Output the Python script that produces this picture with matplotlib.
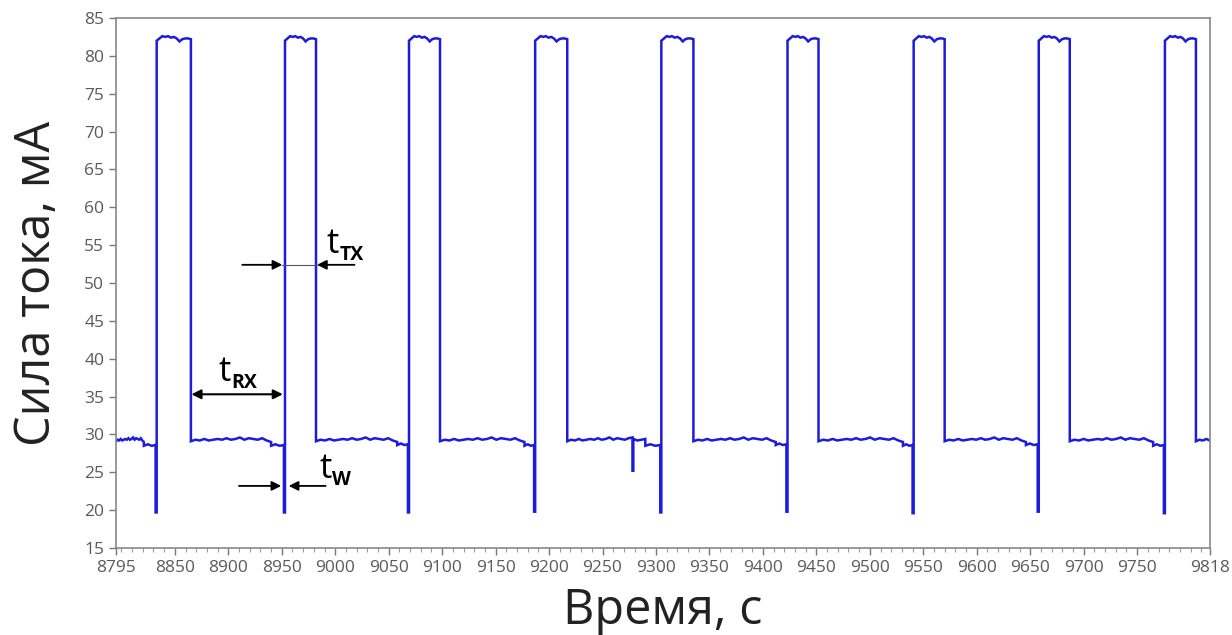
import numpy as np
import matplotlib
matplotlib.use("Agg")
import matplotlib.pyplot as plt

plt.rcParams['font.family'] = ['Open Sans', 'DejaVu Sans']

# ---- data ----
t_start, t_end = 8795, 9818
rise_times = [8833, 8953, 9069, 9187, 9305, 9423, 9541, 9658, 9776]
fall_times = [8865, 8982, 9098, 9217, 9335, 9452, 9570, 9687, 9805]
spike_min = [19.7, 19.7, 19.7, 19.8, 19.7, 19.8, 19.6, 19.8, 19.6]
pre_step_lead = [12, 13, 11, 10, 14, 11, 10, 12, 11]   # seconds the lower step precedes the spike
pre_level = [28.5, 28.5, 28.6, 28.5, 28.5, 28.6, 28.5, 28.6, 28.5]
top_profile = [82.0, 82.3, 82.6, 82.5, 82.6, 82.4, 82.5, 82.3, 81.9, 82.2, 82.3, 82.3, 82.2]
base_profile = [29.1, 29.3, 29.2, 29.4, 29.2, 29.3, 29.4, 29.3, 29.5, 29.3, 29.4,
                29.6, 29.3, 29.5, 29.4, 29.3, 29.5, 29.2, 29.0]
glitch_time, glitch_min, glitch_step = 9278, 25.2, 9290

xticks = [8795, 8850, 8900, 8950, 9000, 9050, 9100, 9150, 9200, 9250, 9300,
          9350, 9400, 9450, 9500, 9550, 9600, 9650, 9700, 9750, 9818]
yticks = [15, 20, 25, 30, 35, 40, 45, 50, 55, 60, 65, 70, 75, 80, 85]

# ---- build piecewise waveform ----
t, y = [], []

def add_profile(a, b, prof):
    pos = np.linspace(a, b, len(prof))
    t.extend(pos)
    y.extend(prof)

prev = t_start
for i, (r, f) in enumerate(zip(rise_times, fall_times)):
    step = r - pre_step_lead[i]
    if i == 4:
        add_profile(prev, glitch_time, base_profile[:-2] + [29.6])
        t.extend([glitch_time, glitch_time + 0.8, glitch_time + 0.8])
        y.extend([glitch_min, glitch_min, 29.4])
        add_profile(glitch_time + 1, glitch_step, base_profile[3:7])
        step = glitch_step
    else:
        add_profile(prev, step, base_profile)
    add_profile(step, r - 1, [pre_level[i], pre_level[i] + 0.2, pre_level[i], pre_level[i] + 0.1])
    t.extend([r - 1, r, r])
    y.extend([spike_min[i], spike_min[i], top_profile[0]])
    add_profile(r, f, top_profile)
    prev = f
add_profile(prev, t_end, base_profile[:5])

# ---- figure ----
fig = plt.figure(figsize=(12.32, 6.35), dpi=100)
ax = fig.add_axes([0.0942, 0.137, 0.8878, 0.8347])
ax.plot(t, y, color='#1c1cdc', lw=1.8, solid_joinstyle='miter')

ax.set_xlim(t_start, t_end)
ax.set_ylim(15, 85)
ax.set_xticks(xticks)
ax.set_yticks(yticks)
ax.set_xticks(np.arange(8800, 9818, 10), minor=True)
ax.tick_params(axis='both', which='major', labelsize=12.5, labelcolor='#5a5a5a',
               color='#777777', direction='out', length=5, width=1)
ax.tick_params(axis='x', which='minor', color='#999999', length=3, width=0.8)
for s in ax.spines.values():
    s.set_color('#888888')
    s.set_linewidth(1.2)

ax.set_xlabel('Время, с', fontsize=35, color='#222222', labelpad=8)
ax.set_ylabel('Сила тока, мА', fontsize=35, color='#222222', labelpad=16)

# ---- annotations ----
arr = dict(arrowstyle='-|>', color='black', lw=1.3, mutation_scale=14, shrinkA=0, shrinkB=0)
# t_TX
ax.annotate('', xy=(8950.5, 52.4), xytext=(8913, 52.4), arrowprops=arr)
ax.annotate('', xy=(8983, 52.4), xytext=(9018, 52.4), arrowprops=arr)
ax.plot([8950.5, 8983], [52.4, 52.4], color='#555555', lw=0.8)
# t_RX
ax.annotate('', xy=(8951, 35.3), xytext=(8865.5, 35.3),
            arrowprops=dict(arrowstyle='<|-|>', color='black', lw=1.5, mutation_scale=14,
                            shrinkA=0, shrinkB=0))
# t_w
ax.annotate('', xy=(8949.5, 23.2), xytext=(8910, 23.2), arrowprops=arr)
ax.annotate('', xy=(8956.5, 23.2), xytext=(8991, 23.2), arrowprops=arr)

def tlabel(x, yv, sub):
    ax.text(x, yv, 't', fontsize=25, color='black', ha='left', va='baseline')
    ax.annotate(sub, xy=(x, yv), xycoords='data', xytext=(9, -5), textcoords='offset points',
                fontsize=14, fontweight='bold', color='black', ha='left', va='baseline')

tlabel(8992, 53.9, 'TX')
tlabel(8891, 37.0, 'RX')
tlabel(8985, 24.3, 'W')

fig.savefig('out.png', dpi=100)
